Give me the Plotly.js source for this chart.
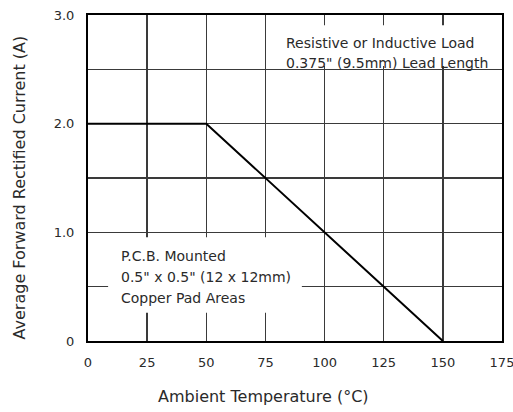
<!DOCTYPE html>
<html>
<head>
<meta charset="utf-8">
<script src="https://cdn.plot.ly/plotly-3.0.1.min.js"></script>
<style>
  html, body { margin: 0; padding: 0; background: #fff; }
  #chart { width: 513px; height: 412px; }
</style>
</head>
<body>
<div id="chart"></div>
<script>
// Derating curve: ambient temperature (°C) vs. average forward rectified current (A)
const temperature = [0, 50, 150];
const current = [2.0, 2.0, 0];

// Axis ticks
const xTicks = [0, 25, 50, 75, 100, 125, 150, 175];
const yTicks = [0, 1, 2, 3];
const yTickText = ['0', '1.0', '2.0', '3.0'];
const yMinorTicks = [0.5, 1.5, 2.5];

// Notes printed inside the plot, one entry per line
const noteLoad = ['Resistive or Inductive Load', '0.375" (9.5mm) Lead Length'];
const notePcb = ['P.C.B. Mounted', '0.5" x 0.5" (12 x 12mm)', 'Copper Pad Areas'];

const font = 'DejaVu Sans, Verdana, sans-serif';
const textColor = '#2a2a2a';
const gridColor = '#3a3a3a';

const trace = {
  x: temperature,
  y: current,
  mode: 'lines',
  line: { color: '#000', width: 2 },
  hoverinfo: 'skip',
  showlegend: false
};

// White panels behind the notes: drawn over the grid, under the curve
const notePanel = (x0, x1, y0, y1) => ({
  type: 'rect', layer: 'between',
  xref: 'x', yref: 'y',
  x0: x0, x1: x1, y0: y0, y1: y1,
  fillcolor: '#fff',
  line: { width: 0 }
});

// Stack the lines of a note from a top-left anchor with a fixed pitch (in axis units)
const noteLines = (lines, x, yFirst, pitch) => lines.map((line, i) => ({
  text: line,
  xref: 'x', yref: 'y',
  x: x, y: yFirst - i * pitch,
  xanchor: 'left', yanchor: 'middle',
  showarrow: false,
  font: { family: font, size: 14, color: textColor }
}));

const layout = {
  width: 513,
  height: 412,
  margin: { l: 88, r: 11, t: 15, b: 71 },
  paper_bgcolor: '#fff',
  plot_bgcolor: '#fff',
  font: { family: font, size: 13, color: textColor },
  xaxis: {
    range: [0, 175],
    tickvals: xTicks,
    ticks: '',
    ticklabelstandoff: 8,
    ticklabeloverflow: 'allow',
    showgrid: true,
    gridcolor: gridColor,
    gridwidth: 1.3,
    zeroline: false,
    showline: true,
    linecolor: '#000',
    linewidth: 2,
    mirror: true,
    fixedrange: true
  },
  yaxis: {
    range: [0, 3],
    tickvals: yTicks,
    ticktext: yTickText,
    ticks: '',
    ticklabelstandoff: 9,
    showgrid: true,
    gridcolor: gridColor,
    gridwidth: 1.3,
    zeroline: false,
    showline: true,
    linecolor: '#000',
    linewidth: 2,
    mirror: true,
    minor: { tickvals: yMinorTicks, showgrid: true, gridcolor: gridColor, gridwidth: 1.3, ticks: '' },
    fixedrange: true
  },
  shapes: [
    notePanel(77.8, 174.4, 2.53, 2.905),
    notePanel(8.5, 90.4, 0.26, 0.955)
  ],
  annotations: [
    ...noteLines(noteLoad, 83, 2.74, 0.185),
    ...noteLines(notePcb, 13, 0.785, 0.195),
    {
      text: 'Ambient Temperature (°C)',
      xref: 'paper', yref: 'paper',
      x: 0.425, y: -0.169,
      xanchor: 'center', yanchor: 'middle',
      showarrow: false,
      font: { family: font, size: 16, color: textColor }
    },
    {
      text: 'Average Forward Rectified Current (A)',
      xref: 'paper', yref: 'paper',
      x: -0.165, y: 0.47,
      xanchor: 'center', yanchor: 'middle',
      textangle: -90,
      showarrow: false,
      font: { family: font, size: 16, color: textColor }
    }
  ]
};

Plotly.newPlot('chart', [trace], layout, { displayModeBar: false, staticPlot: true });
</script>
</body>
</html>
